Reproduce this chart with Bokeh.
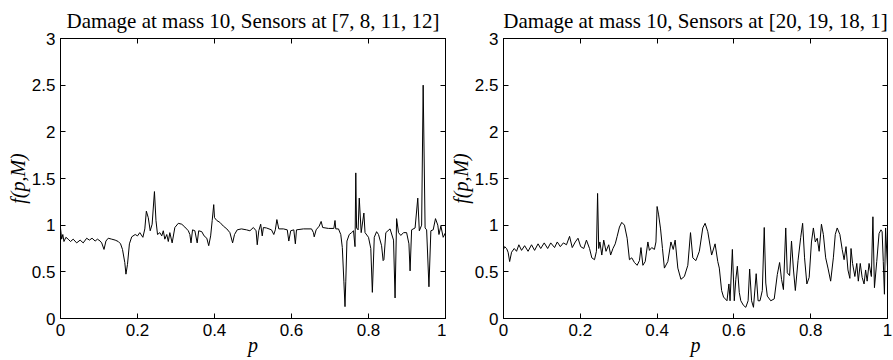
from bokeh.plotting import figure
from bokeh.models import (Range1d, FixedTicker, NumeralTickFormatter, LinearAxis,
                          CustomJSTickFormatter)
from bokeh.layouts import row
from bokeh.embed import file_html
from bokeh.resources import INLINE

titles = ["Damage at mass 10, Sensors at [7, 8, 11, 12]",
          "Damage at mass 10, Sensors at [20, 19, 18, 1]"]
x_label = "p"
y_label = "f(p,M)"
x_ticks = [0, 0.2, 0.4, 0.6, 0.8, 1]
y_ticks = [0, 0.5, 1, 1.5, 2, 2.5, 3]

left_p = [0.000, 0.003, 0.006, 0.009, 0.014, 0.020, 0.026, 0.033, 0.042, 0.051, 0.059, 0.068,
          0.075, 0.082, 0.090, 0.096, 0.103, 0.107, 0.113, 0.118, 0.124, 0.133, 0.142, 0.150,
          0.156, 0.161, 0.167, 0.170, 0.174, 0.179, 0.185, 0.194, 0.200, 0.206, 0.214, 0.219,
          0.223, 0.228, 0.233, 0.238, 0.244, 0.248, 0.252, 0.258, 0.263, 0.267, 0.271, 0.276,
          0.280, 0.284, 0.290, 0.297, 0.306, 0.315, 0.323, 0.332, 0.336, 0.339, 0.343, 0.349,
          0.355, 0.359, 0.367, 0.373, 0.380, 0.385, 0.390, 0.394, 0.398, 0.400, 0.406, 0.414,
          0.423, 0.432, 0.440, 0.447, 0.452, 0.459, 0.470, 0.483, 0.492, 0.501, 0.508, 0.511,
          0.515, 0.520, 0.524, 0.527, 0.535, 0.548, 0.554, 0.558, 0.562, 0.567, 0.579, 0.589,
          0.593, 0.598, 0.606, 0.610, 0.613, 0.631, 0.652, 0.657, 0.659, 0.664, 0.672, 0.677,
          0.681, 0.696, 0.710, 0.713, 0.715, 0.722, 0.728, 0.732, 0.736, 0.739, 0.741, 0.744,
          0.750, 0.756, 0.761, 0.765, 0.767, 0.769, 0.773, 0.776, 0.781, 0.788, 0.791, 0.800,
          0.806, 0.810, 0.815, 0.821, 0.826, 0.834, 0.838, 0.840, 0.845, 0.856, 0.865, 0.869,
          0.873, 0.878, 0.884, 0.891, 0.899, 0.905, 0.908, 0.912, 0.921, 0.928, 0.932, 0.938,
          0.942, 0.947, 0.951, 0.957, 0.962, 0.968, 0.974, 0.980, 0.983, 0.988, 0.994, 1.000]
left_f = [0.97, 0.85, 0.90, 0.825, 0.87, 0.85, 0.825, 0.85, 0.81, 0.84, 0.81, 0.86,
          0.84, 0.86, 0.83, 0.85, 0.83, 0.81, 0.74, 0.83, 0.86, 0.85, 0.84, 0.825,
          0.80, 0.74, 0.60, 0.475, 0.58, 0.80, 0.875, 0.90, 0.885, 0.92, 0.87, 0.96,
          1.15, 1.08, 0.94, 1.01, 1.36, 1.05, 0.90, 0.92, 0.885, 0.94, 0.85, 0.90,
          0.825, 0.92, 0.81, 0.975, 1.02, 1.01, 0.98, 0.94, 0.90, 0.81, 0.95, 0.94,
          0.81, 0.94, 0.93, 0.885, 0.86, 0.78, 0.885, 1.05, 1.22, 1.08, 1.05, 1.03,
          0.99, 0.96, 0.92, 0.81, 0.90, 0.95, 0.96, 0.95, 0.94, 0.975, 0.94, 0.79,
          0.94, 1.01, 0.885, 0.975, 0.97, 0.95, 0.90, 0.95, 1.06, 0.96, 0.96, 0.95,
          0.83, 0.94, 0.95, 0.80, 0.95, 0.96, 0.96, 0.92, 0.875, 0.95, 0.99, 1.04,
          0.975, 0.965, 0.965, 1.05, 0.96, 0.96, 0.90, 0.76, 0.40, 0.127, 0.40, 0.83,
          0.90, 0.92, 0.94, 0.77, 1.56, 0.97, 0.95, 1.29, 0.92, 1.13, 0.92, 0.87,
          0.75, 0.28, 0.87, 0.93, 0.90, 0.78, 0.62, 0.63, 0.92, 0.96, 0.84, 0.22,
          1.07, 0.92, 0.89, 0.92, 0.92, 0.80, 0.51, 0.95, 0.97, 1.29, 0.94, 1.00,
          2.50, 0.97, 0.95, 0.34, 0.94, 0.95, 1.07, 1.00, 0.90, 0.99, 0.87, 0.92]

right_p = [0.000, 0.003, 0.008, 0.012, 0.016, 0.021, 0.028, 0.034, 0.040, 0.047, 0.055, 0.064,
           0.073, 0.081, 0.090, 0.097, 0.106, 0.115, 0.123, 0.133, 0.140, 0.148, 0.156, 0.164,
           0.172, 0.179, 0.187, 0.194, 0.201, 0.209, 0.216, 0.224, 0.230, 0.237, 0.242, 0.245,
           0.248, 0.251, 0.256, 0.261, 0.267, 0.274, 0.279, 0.285, 0.291, 0.296, 0.302, 0.308,
           0.315, 0.322, 0.328, 0.334, 0.341, 0.348, 0.354, 0.358, 0.363, 0.369, 0.376, 0.380,
           0.386, 0.393, 0.397, 0.400, 0.404, 0.409, 0.414, 0.419, 0.428, 0.436, 0.442, 0.447,
           0.454, 0.462, 0.471, 0.480, 0.487, 0.493, 0.501, 0.510, 0.519, 0.525, 0.532, 0.542,
           0.551, 0.558, 0.562, 0.568, 0.573, 0.582, 0.587, 0.590, 0.596, 0.601, 0.605, 0.609,
           0.614, 0.618, 0.625, 0.631, 0.637, 0.641, 0.646, 0.651, 0.658, 0.663, 0.668, 0.674,
           0.679, 0.683, 0.687, 0.696, 0.705, 0.713, 0.719, 0.724, 0.729, 0.735, 0.739, 0.745,
           0.750, 0.755, 0.760, 0.767, 0.774, 0.779, 0.784, 0.790, 0.796, 0.802, 0.807, 0.812,
           0.817, 0.822, 0.828, 0.833, 0.839, 0.845, 0.852, 0.859, 0.864, 0.869, 0.876, 0.882,
           0.887, 0.892, 0.897, 0.902, 0.905, 0.909, 0.915, 0.920, 0.924, 0.929, 0.934, 0.939,
           0.943, 0.947, 0.952, 0.958, 0.962, 0.966, 0.972, 0.978, 0.983, 0.986, 0.989, 0.992,
           0.995, 1.000]
right_f = [0.74, 0.77, 0.75, 0.71, 0.61, 0.71, 0.75, 0.72, 0.79, 0.73, 0.78, 0.72,
           0.79, 0.73, 0.80, 0.75, 0.81, 0.75, 0.81, 0.76, 0.82, 0.77, 0.81, 0.79,
           0.88, 0.76, 0.82, 0.86, 0.77, 0.75, 0.84, 0.75, 0.65, 0.63, 0.72, 1.34,
           0.75, 0.82, 0.68, 0.84, 0.72, 0.79, 0.68, 0.75, 0.80, 0.88, 0.98, 1.03,
           1.00, 0.86, 0.63, 0.65, 0.60, 0.57, 0.62, 0.76, 0.57, 0.61, 0.82, 0.73,
           0.76, 0.74, 0.82, 1.20, 1.11, 0.96, 0.75, 0.54, 0.61, 0.82, 0.74, 0.84,
           0.54, 0.42, 0.45, 0.57, 0.92, 0.65, 0.62, 0.72, 0.97, 1.02, 0.93, 0.68,
           0.80, 0.61, 0.54, 0.30, 0.23, 0.19, 0.37, 0.19, 0.74, 0.19, 0.42, 0.56,
           0.28, 0.19, 0.14, 0.12, 0.19, 0.53, 0.19, 0.12, 0.48, 0.19, 0.19, 0.30,
           0.975, 0.38, 0.24, 0.19, 0.21, 0.47, 0.60, 0.42, 0.31, 0.97, 0.49, 0.46,
           0.83, 0.53, 0.30, 0.62, 0.87, 1.02, 0.65, 0.37, 0.44, 0.82, 0.97, 0.82,
           0.86, 0.72, 1.01, 0.90, 0.65, 0.54, 0.40, 0.65, 0.90, 0.97, 0.90, 0.74,
           0.63, 0.77, 0.52, 0.43, 0.75, 0.59, 0.45, 0.59, 0.40, 0.59, 0.44, 0.37,
           0.52, 0.40, 0.59, 0.45, 1.09, 0.33, 0.61, 0.91, 0.95, 0.93, 0.61, 0.26,
           0.97, 0.55]


def blank_axis(ticks):
    return LinearAxis(ticker=FixedTicker(ticks=ticks), major_tick_in=5, major_tick_out=0,
                      minor_tick_line_color=None, major_label_text_font_size="1px",
                      formatter=CustomJSTickFormatter(code="return ''"),
                      major_label_standoff=0, axis_line_color="black",
                      major_tick_line_color="black")


def make_panel(title, xs, ys, width, border_left, border_right):
    p = figure(width=width, height=360, output_backend="svg", toolbar_location=None,
               x_range=Range1d(0, 1), y_range=Range1d(0, 3),
               min_border_left=border_left, min_border_right=border_right,
               min_border_top=35, min_border_bottom=42)
    p.background_fill_color = "white"
    p.border_fill_color = "white"
    p.outline_line_color = "black"
    p.outline_line_width = 1
    p.xgrid.visible = False
    p.ygrid.visible = False

    p.title.text = title
    p.title.text_font = "Liberation Serif"
    p.title.text_font_size = "21px"
    p.title.text_font_style = "normal"
    p.title.text_color = "black"
    p.title.align = "center"
    p.title.standoff = 12

    p.line(xs, ys, line_color="black", line_width=1)

    for ax, ticks in ((p.xaxis[0], x_ticks), (p.yaxis[0], y_ticks)):
        ax.ticker = FixedTicker(ticks=ticks)
        ax.formatter = NumeralTickFormatter(format="0.[0]")
        ax.major_tick_in = 5
        ax.major_tick_out = 0
        ax.minor_tick_line_color = None
        ax.axis_line_color = "black"
        ax.major_tick_line_color = "black"
        ax.major_label_text_font = "Liberation Sans"
        ax.major_label_text_font_size = "17px"
        ax.major_label_text_color = "black"
        ax.axis_label_text_font = "Liberation Serif"
        ax.axis_label_text_font_style = "italic"
        ax.axis_label_text_font_size = "20px"
        ax.axis_label_text_color = "black"
    p.xaxis[0].axis_label = x_label
    p.xaxis[0].major_label_standoff = 5
    p.xaxis[0].axis_label_standoff = -5
    p.yaxis[0].axis_label = y_label
    p.yaxis[0].major_label_standoff = 5
    p.yaxis[0].axis_label_standoff = 0

    p.add_layout(blank_axis(x_ticks), "above")
    p.add_layout(blank_axis(y_ticks), "right")
    return p


p1 = make_panel(titles[0], left_p, left_f, 446, 60, 1)
p2 = make_panel(titles[1], right_p, right_f, 447, 56, 6)
layout = row(p1, p2)

open("out.html", "w").write(file_html(layout, INLINE))
